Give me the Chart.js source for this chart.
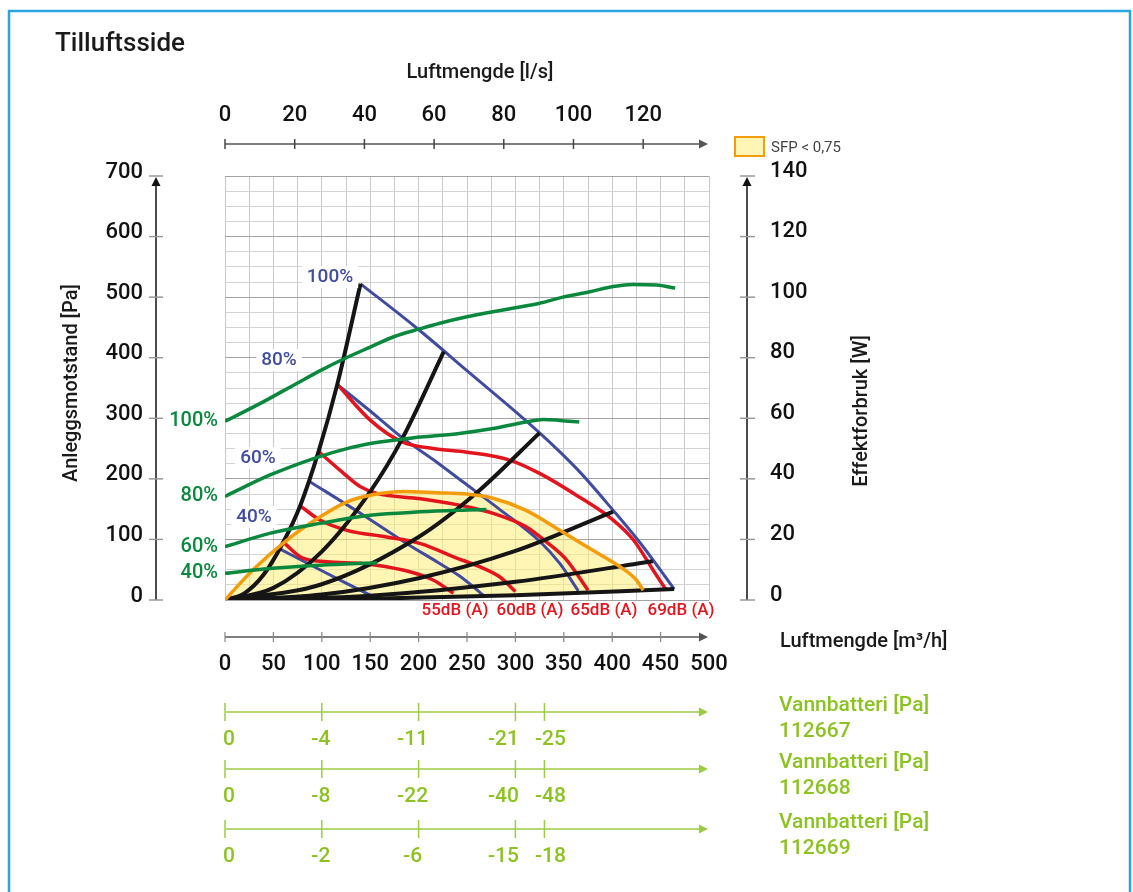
<!DOCTYPE html>
<html>
<head>
<meta charset="utf-8">
<script src="https://cdn.jsdelivr.net/npm/chart.js@4.4.0/dist/chart.umd.min.js"></script>
<style>
  body { margin: 0; background: #fff; }
  #wrap { position: relative; width: 1133px; height: 892px; }
</style>
</head>
<body>
<div id="wrap"><canvas id="fanChart"></canvas></div>
<script>
// axis ticks
var lpsTicks = [0, 20, 40, 60, 80, 100, 120];
var m3hTicks = [0, 50, 100, 150, 200, 250, 300, 350, 400, 450, 500];
var paTicks = [0, 100, 200, 300, 400, 500, 600, 700];
var wTicks = [0, 20, 40, 60, 80, 100, 120, 140];

// water coil pressure drop scales
var coilFlow = [0, 100, 200, 300, 330];
var coil112667 = ["0", "-4", "-11", "-21", "-25"];
var coil112668 = ["0", "-8", "-22", "-40", "-48"];
var coil112669 = ["0", "-2", "-6", "-15", "-18"];

// system curves [m3/h, Pa]
var sys1 = [[0,0],[20,11],[40,42],[60,95],[78,157],[97,247],[116,356],[140,522]];
var sys2 = [[0,0],[50,20],[100,80],[150,179],[183,266],[226,410]];
var sys3 = [[0,0],[100,26],[200,104],[260,177],[325,276]];
var sys4 = [[0,0],[100,9],[200,36],[300,81],[401,146]];
var sys5 = [[0,0],[150,7],[300,30],[442,64]];
var sys6 = [[0,0],[150,2],[300,8],[464,18]];

// fan curves [m3/h, Pa]
var fan100 = [[140,522],[198,449],[249,380],[325,276],[365,214],[401,148],[430,92],[464,18]];
var fan80 = [[116,356],[150,312],[183,268],[215,232],[245,196],[285,148],[325,97],[346,60],[365,15]];
var fan60 = [[86,197],[143,140],[188,93],[220,62],[242,40],[267,8]];
var fan40 = [[57,84],[98,50],[125,28],[150,8]];

// sound level curves [m3/h, Pa]
var db69 = [[116,356],[150,297],[183,261],[215,250],[250,244],[294,231],[325,209],[363,173],[401,132],[422,99],[442,50],[456,16]];
var db65 = [[96,246],[119,214],[140,187],[157,176],[202,167],[250,154],[277,143],[311,121],[332,96],[353,66],[375,16]];
var db60 = [[78,155],[98,132],[126,115],[167,104],[202,93],[238,70],[263,55],[284,38],[300,14]];
var db55 = [[60,96],[78,71],[105,63],[143,60],[185,49],[215,33],[236,11]];

// power curves [m3/h, W]
var pow100 = [[0,59],[37,65],[74,71.5],[100,76],[122,79.5],[150,83.5],[175,87],[201,89.5],[222,91.4],[250,93.5],[274,95],[300,96.5],[325,98],[349,100],[377,101.8],[401,103.5],[421,104.2],[446,104],[465,103]];
var pow80 = [[0,34.2],[46,41.2],[96,47.2],[126,50],[150,51.7],[202,53.8],[242,55],[277,56.6],[311,58.8],[329,59.6],[346,59.3],[366,58.8]];
var pow60 = [[0,17.6],[46,22],[98,25.3],[150,28],[202,29.1],[250,29.7],[270,29.9]];
var pow40 = [[0,8.8],[46,10.4],[98,11.5],[157,12.3]];

// SFP < 0,75 boundary [m3/h, Pa]
var sfp = [[0,0],[29,50],[64,99],[98,137],[126,162],[150,173],[185,179],[219,177],[250,175],[277,168],[311,148],[346,115],[380,82],[408,55],[425,33],[432,16]];

var BLACK = "#151515", BLUE = "#414c9f", RED = "#e3141e", GREEN = "#0a883e", ORANGE = "#f49d0c", LIME = "#8cc221";

function pts(a) { return a.map(function (p) { return {x: p[0], y: p[1]}; }); }
function curve(data, color, width, order, axis) {
  return {
    data: pts(data), borderColor: color, borderWidth: width, pointRadius: 0,
    yAxisID: axis || "y", cubicInterpolationMode: "monotone", fill: false, order: order
  };
}

var datasets = [];
[sys1, sys2, sys3, sys4, sys5, sys6].forEach(function (d) { datasets.push(curve(d, BLACK, 4, 3)); });
var sys6Index = datasets.length - 1;
[fan100, fan80, fan60, fan40].forEach(function (d) { datasets.push(curve(d, BLUE, 3, 5)); });
[db69, db65, db60, db55].forEach(function (d) { datasets.push(curve(d, RED, 3.5, 4)); });
[pow100, pow80, pow60, pow40].forEach(function (d) { datasets.push(curve(d, GREEN, 3.5, 1, "y2")); });
var sfpSet = curve(sfp, ORANGE, 3.5, 2);
sfpSet.fill = sys6Index;
sfpSet.backgroundColor = "rgba(255,236,120,0.55)";
datasets.push(sfpSet);

function txt(ctx, s, x, y, font, color, align) {
  ctx.font = font;
  ctx.fillStyle = color;
  ctx.textAlign = align || "center";
  ctx.textBaseline = "middle";
  ctx.fillText(s, x, y);
}
function hArrow(ctx, x1, x2, y, color, w) {
  ctx.strokeStyle = color; ctx.fillStyle = color; ctx.lineWidth = w;
  ctx.beginPath(); ctx.moveTo(x1, y); ctx.lineTo(x2 - 6, y); ctx.stroke();
  ctx.beginPath(); ctx.moveTo(x2, y); ctx.lineTo(x2 - 9, y - 4.5); ctx.lineTo(x2 - 9, y + 4.5); ctx.closePath(); ctx.fill();
}
function vArrow(ctx, x, y1, y2, color, w) {
  ctx.strokeStyle = color; ctx.fillStyle = color; ctx.lineWidth = w;
  ctx.beginPath(); ctx.moveTo(x, y1); ctx.lineTo(x, y2 + 6); ctx.stroke();
  ctx.beginPath(); ctx.moveTo(x, y2); ctx.lineTo(x - 4.5, y2 + 9); ctx.lineTo(x + 4.5, y2 + 9); ctx.closePath(); ctx.fill();
}
function seg(ctx, x1, y1, x2, y2, color, w) {
  ctx.strokeStyle = color; ctx.lineWidth = w;
  ctx.beginPath(); ctx.moveTo(x1, y1); ctx.lineTo(x2, y2); ctx.stroke();
}

var decor = {
  id: "decor",
  afterDraw: function (chart) {
    var ctx = chart.ctx, sx = chart.scales.x, sy = chart.scales.y, sw = chart.scales.y2;
    var x0 = sx.getPixelForValue(0);
    var F = "px Roboto, 'Open Sans', sans-serif";
    var M = "500 ";
    ctx.save();

    // outer frame (open at the bottom edge of the picture)
    ctx.strokeStyle = "#2aa5e1"; ctx.lineWidth = 2.5;
    ctx.strokeRect(9, 11, 1121, 900);

    txt(ctx, "Tilluftsside", 55, 44, M + "26" + F, "#1a1a1a", "left");

    // top axis, l/s
    txt(ctx, "Luftmengde [l/s]", 480, 73, M + "20" + F, "#1a1a1a");
    hArrow(ctx, x0, 708, 144, "#555", 1.5);
    lpsTicks.forEach(function (v) {
      var px = sx.getPixelForValue(v * 3.6);
      seg(ctx, px, 139, px, 149, "#444", 1.5);
      txt(ctx, String(v), px, 115, M + "22" + F, "#111");
    });

    // bottom axis, m3/h
    hArrow(ctx, x0, 708, 637, "#555", 1.5);
    m3hTicks.forEach(function (v) {
      var px = sx.getPixelForValue(v);
      if (v < 500) seg(ctx, px, 632, px, 642, "#888", 1.2);
      txt(ctx, String(v), px, 664, M + "22" + F, "#111");
    });
    txt(ctx, "Luftmengde [m\u00b3/h]", 780, 642, M + "20" + F, "#1a1a1a", "left");

    // left axis, Pa
    var yTop = sy.getPixelForValue(700), yBot = sy.getPixelForValue(0);
    vArrow(ctx, 156, yBot, yTop + 1, "#111", 1.5);
    paTicks.forEach(function (v) {
      var py = sy.getPixelForValue(v);
      seg(ctx, 149, py, 163, py, "#999", 1.5);
      txt(ctx, String(v), 143, py - 4, M + "22" + F, "#111", "right");
    });

    // right axis, W
    vArrow(ctx, 747, yBot, yTop + 1, "#111", 1.5);
    wTicks.forEach(function (v) {
      var py = sw.getPixelForValue(v);
      seg(ctx, 740, py, 755, py, "#999", 1.5);
      txt(ctx, String(v), 770, py - 5, M + "22" + F, "#111", "left");
    });

    // rotated axis titles
    ctx.save(); ctx.translate(72, 383); ctx.rotate(-Math.PI / 2);
    txt(ctx, "Anleggsmotstand [Pa]", 0, 0, M + "20" + F, "#1a1a1a"); ctx.restore();
    ctx.save(); ctx.translate(862, 411); ctx.rotate(-Math.PI / 2);
    txt(ctx, "Effektforbruk [W]", 0, 0, M + "20" + F, "#1a1a1a"); ctx.restore();

    // legend
    ctx.fillStyle = "#fff5b4"; ctx.fillRect(735, 137, 29, 19);
    ctx.strokeStyle = "#f49d0c"; ctx.lineWidth = 2; ctx.strokeRect(735, 137, 29, 19);
    txt(ctx, "SFP < 0,75", 771, 148, "15" + F, "#444", "left");

    // blue fan speed labels
    [["100%", 330, 277], ["80%", 279, 360], ["60%", 258, 458], ["40%", 254, 517]].forEach(function (l) {
      ctx.font = M + "19" + F;
      var w = ctx.measureText(l[0]).width;
      ctx.fillStyle = "#fff"; ctx.fillRect(l[1] - w / 2 - 5, l[2] - 11, w + 10, 22);
      txt(ctx, l[0], l[1], l[2], M + "19" + F, BLUE);
    });

    // green power labels at curve starts
    [["100%", pow100], ["80%", pow80], ["60%", pow60], ["40%", pow40]].forEach(function (l) {
      txt(ctx, l[0], 218, sw.getPixelForValue(l[1][0][1]), M + "20" + F, GREEN, "right");
    });

    // red sound labels
    [["55dB (A)", 455], ["60dB (A)", 530], ["65dB (A)", 604], ["69dB (A)", 681]].forEach(function (l) {
      txt(ctx, l[0], l[1], 611, M + "17" + F, RED);
    });

    // water coil scales
    var nudge = [4, -1, -6, -12, 6];
    [[712, coil112667, "112667"], [769, coil112668, "112668"], [829, coil112669, "112669"]].forEach(function (r) {
      var gy = r[0];
      hArrow(ctx, x0 + 1, 708, gy, "#9ccb45", 1.5);
      coilFlow.forEach(function (v, i) {
        var px = sx.getPixelForValue(v);
        seg(ctx, px, gy - 9, px, gy + 9, "#9ccb45", 1.5);
        txt(ctx, r[1][i], px + nudge[i], gy + 28, M + "21" + F, LIME);
      });
      txt(ctx, "Vannbatteri [Pa]", 779, gy - 6, M + "21" + F, LIME, "left");
      txt(ctx, r[2], 779, gy + 20, M + "21" + F, LIME, "left");
    });

    ctx.restore();
  }
};

new Chart("fanChart", {
  type: "line",
  data: { datasets: datasets },
  options: {
    responsive: true,
    maintainAspectRatio: false,
    animation: false,
    layout: { padding: { left: 225, top: 176, right: 424, bottom: 292 } },
    plugins: {
      legend: { display: false },
      tooltip: { enabled: false },
      filler: { drawTime: "beforeDatasetsDraw" }
    },
    scales: {
      x: {
        type: "linear", min: 0, max: 500,
        ticks: { stepSize: 25, display: false },
        grid: { color: "#c9c9c9", lineWidth: 1, drawTicks: false },
        border: { display: false }
      },
      y: {
        type: "linear", min: 0, max: 700,
        ticks: { stepSize: 25, display: false },
        grid: {
          color: function (c) { return c.tick && c.tick.value % 100 === 0 ? "#a3a3a3" : "#d3d3d3"; },
          lineWidth: 1, drawTicks: false
        },
        border: { display: false }
      },
      y2: { type: "linear", min: 0, max: 140, display: false, position: "right" }
    }
  },
  plugins: [decor]
});
</script>
</body>
</html>
